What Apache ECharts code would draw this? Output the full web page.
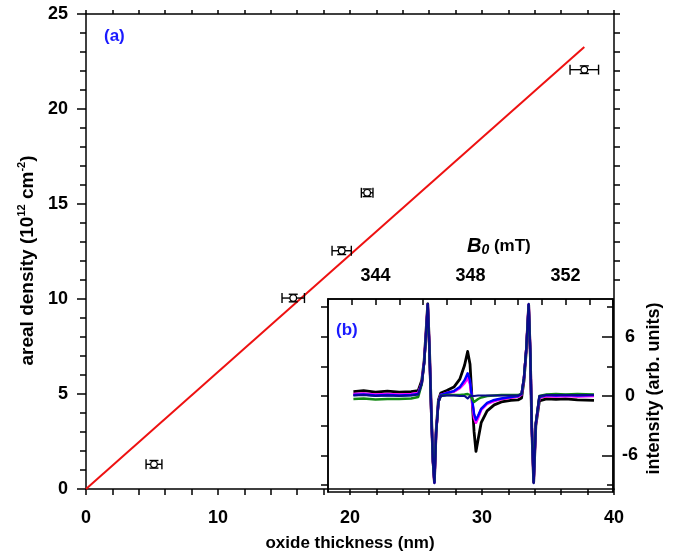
<!DOCTYPE html>
<html>
<head>
<meta charset="utf-8">
<script src="https://cdn.jsdelivr.net/npm/echarts@6/dist/echarts.min.js"></script>
<style>html,body{margin:0;padding:0;background:#fff}#c{width:674px;height:557px}</style>
</head>
<body>
<div id="c"></div>
<script>
// ---- main panel (a) data ----
const thickness    = [5.15, 15.7, 19.37, 21.3, 37.75];
const thicknessErr = [0.6, 0.85, 0.73, 0.44, 1.08];
const density      = [1.3, 10.05, 12.54, 15.59, 22.07];
const densityErr   = [0.2, 0.2, 0.2, 0.2, 0.2];
const fitX = [0, 37.75];
const fitY = [0, 23.26];

// ---- inset (b) EPR spectra ----
const fieldB = [343.07,343.5,344.0,344.5,345.0,345.5,345.8,345.95,346.05,346.13,346.2,346.27,346.35,346.42,346.48,346.55,346.65,346.75,347.0,347.3,347.55,347.75,347.88,347.98,348.05,348.15,348.23,348.32,348.45,348.7,349.0,349.3,349.7,350.0,350.15,350.25,350.35,350.45,350.52,350.58,350.66,350.75,350.9,351.2,351.6,352.0,352.5,353.2];
const specBlack   = [0.45,0.55,0.4,0.5,0.4,0.45,0.55,1.6,3.6,6.6,9.3,5.0,-1.6,-6.5,-8.7,-3.6,-0.4,0.3,0.55,0.9,1.7,3.1,4.5,3.2,0.3,-3.6,-5.6,-4.4,-2.7,-1.5,-0.9,-0.6,-0.45,-0.4,-0.2,1.5,4.6,9.2,4.0,-3.2,-8.7,-3.0,-0.5,-0.3,-0.35,-0.3,-0.4,-0.45];
const specRed     = [0.15,0.2,0.1,0.15,0.1,0.15,0.25,1.3,3.4,6.4,9.2,4.8,-1.8,-6.6,-8.7,-3.8,-0.6,0.1,0.3,0.45,0.85,1.5,2.1,1.4,-0.1,-1.9,-2.5,-2.1,-1.3,-0.75,-0.45,-0.3,-0.15,-0.05,0.15,1.8,4.8,9.2,4.2,-3.0,-8.6,-2.8,-0.15,0.0,0.0,0.05,0.0,0.05];
const specMagenta = [0.2,0.25,0.15,0.2,0.15,0.2,0.3,1.3,3.4,6.4,9.2,4.8,-1.8,-6.6,-8.7,-3.8,-0.6,0.1,0.3,0.45,0.8,1.3,1.8,1.2,-0.2,-2.2,-2.7,-2.2,-1.4,-0.8,-0.5,-0.3,-0.15,-0.05,0.15,1.8,4.8,9.2,4.2,-3.0,-8.6,-2.8,-0.15,0.0,-0.05,0.0,-0.05,0.0];
const specBlue    = [0.1,0.15,0.05,0.1,0.05,0.1,0.2,1.3,3.4,6.4,9.2,4.8,-1.8,-6.6,-8.7,-3.8,-0.6,0.1,0.3,0.5,0.9,1.6,2.3,1.6,0.0,-1.8,-2.4,-2.0,-1.3,-0.7,-0.4,-0.25,-0.1,0.0,0.2,1.8,4.8,9.2,4.2,-3.0,-8.6,-2.8,-0.1,0.1,0.05,0.1,0.05,0.1];
const specGreen   = [-0.3,-0.25,-0.35,-0.3,-0.3,-0.25,-0.1,1.2,3.3,6.3,9.1,4.7,-1.9,-6.6,-8.6,-3.8,-0.6,0.0,0.1,0.1,0.1,0.15,0.2,0.1,-0.2,-0.6,-0.5,-0.3,-0.15,0.0,0.05,0.1,0.1,0.1,0.25,1.8,4.8,9.1,4.2,-3.0,-8.6,-2.7,0.0,0.15,0.2,0.15,0.2,0.15];
const specNavy    = [0.05,0.1,0.0,0.05,0.0,0.05,0.15,1.3,3.4,6.4,9.3,4.8,-1.8,-6.6,-8.8,-3.8,-0.6,0.0,0.05,0.05,0.0,0.0,-0.25,0.0,0.05,0.0,0.0,0.05,0.05,0.05,0.05,0.05,0.05,0.05,0.2,1.8,4.8,9.3,4.2,-3.0,-8.8,-2.8,0.0,0.1,0.1,0.1,0.1,0.1];

// ---- tick values ----
const insetFieldLabels = [344, 348, 352];
const insetIntLabels   = [-6, 0, 6];
const insetIntMinor    = [-9, -3, 3, 9];
const insetIntAll      = [-9, -6, -3, 0, 3, 6, 9];
const mainRightTicks   = [11,12,13,14,15,16,17,18,19,20,21,22,23,24,25];

const F = "'Liberation Sans', Arial, Helvetica, sans-serif";
const blk = '#000';
const lab = {color: blk, fontFamily: F, fontWeight: 'bold', fontSize: 18};

function spec(arr) { return fieldB.map((b, i) => [b, arr[i]]); }
function specSeries(arr, color, w) {
  return {type: 'line', xAxisIndex: 2, yAxisIndex: 2, data: spec(arr), symbol: 'none',
          lineStyle: {color: color, width: w, join: 'round'}, itemStyle: {color: color}, animation: false};
}

const chart = echarts.init(document.getElementById('c'), null, {renderer: 'canvas'});
chart.setOption({
  animation: false,
  backgroundColor: '#fff',
  grid: [
    {left: 86, top: 14, width: 528, height: 478},
    {left: 328, top: 299, width: 285, height: 193, show: true, borderColor: blk, borderWidth: 1.5, backgroundColor: 'rgba(0,0,0,0)'}
  ],
  xAxis: [
    {gridIndex: 0, type: 'value', min: 0, max: 40, interval: 10, position: 'bottom',
     axisLine: {onZero: false, lineStyle: {color: blk, width: 1.5}},
     axisTick: {length: 6, lineStyle: {color: blk, width: 1.5}},
     minorTick: {show: true, splitNumber: 5, length: 6, lineStyle: {color: blk, width: 1.5}},
     splitLine: {show: false}, minorSplitLine: {show: false},
     axisLabel: Object.assign({margin: 20}, lab),
     name: 'oxide thickness (nm)', nameLocation: 'middle', nameGap: 46,
     nameTextStyle: {color: blk, fontFamily: F, fontWeight: 'bold', fontSize: 17}},
    {gridIndex: 0, type: 'value', min: 0, max: 40, interval: 10, position: 'top',
     axisLine: {onZero: false, lineStyle: {color: blk, width: 1.5}},
     axisTick: {length: 4, lineStyle: {color: blk, width: 1.5}},
     minorTick: {show: true, splitNumber: 5, length: 4, lineStyle: {color: blk, width: 1.5}},
     splitLine: {show: false}, axisLabel: {show: false}},
    {gridIndex: 1, type: 'value', min: 342, max: 354, interval: 1, position: 'top',
     axisLine: {onZero: false, lineStyle: {color: blk, width: 1.5}},
     axisTick: {inside: true, length: 6, lineStyle: {color: blk, width: 1.5}},
     splitLine: {show: false},
     axisLabel: Object.assign({margin: 14, customValues: insetFieldLabels}, lab)}
  ],
  yAxis: [
    {gridIndex: 0, type: 'value', min: 0, max: 25, interval: 5, position: 'left',
     axisLine: {onZero: false, lineStyle: {color: blk, width: 1.5}},
     axisTick: {length: 9, lineStyle: {color: blk, width: 1.5}},
     minorTick: {show: true, splitNumber: 5, length: 6, lineStyle: {color: blk, width: 1.5}},
     splitLine: {show: false}, minorSplitLine: {show: false},
     axisLabel: Object.assign({margin: 18}, lab),
     name: '{t|areal density (10}{s|12}{t| cm}{s|-2}{t|)}', nameLocation: 'middle', nameGap: 44,
     nameTextStyle: {padding: [0, 18, 0, 0], rich: {
       t: {color: blk, fontFamily: F, fontWeight: 'bold', fontSize: 19, lineHeight: 22},
       s: {color: blk, fontFamily: F, fontWeight: 'bold', fontSize: 11, verticalAlign: 'top', lineHeight: 22, padding: [0, 0, 8, 0]}
     }}},
    {gridIndex: 0, type: 'value', min: 0, max: 25, position: 'right',
     axisLine: {onZero: false, lineStyle: {color: blk, width: 1.5}},
     axisTick: {length: 6, customValues: mainRightTicks, lineStyle: {color: blk, width: 1.5}},
     splitLine: {show: false}, axisLabel: {show: false}},
    {gridIndex: 1, type: 'value', min: -9.7, max: 9.8, position: 'right',
     axisLine: {onZero: false, lineStyle: {color: blk, width: 1.5}},
     axisTick: {inside: true, length: 11, customValues: insetIntLabels, lineStyle: {color: blk, width: 1.5}},
     splitLine: {show: false},
     axisLabel: Object.assign({margin: 17, align: 'center', customValues: insetIntLabels}, lab),
     name: 'intensity (arb. units)', nameLocation: 'middle', nameGap: 32,
     nameTextStyle: {color: blk, fontFamily: F, fontWeight: 'bold', fontSize: 18, padding: [0, 0, 0, 14]}},
    {gridIndex: 1, type: 'value', min: -9.7, max: 9.8, position: 'right',
     axisLine: {show: false},
     axisTick: {inside: true, length: 6, customValues: insetIntMinor, lineStyle: {color: blk, width: 1.5}},
     splitLine: {show: false}, axisLabel: {show: false}},
    {gridIndex: 1, type: 'value', min: -9.7, max: 9.8, position: 'left',
     axisLine: {onZero: false, lineStyle: {color: blk, width: 1.5}},
     axisTick: {length: 7, customValues: insetIntAll, lineStyle: {color: blk, width: 1.5}},
     splitLine: {show: false}, axisLabel: {show: false}}
  ],
  graphic: [
    {type: 'text', left: 104, top: 28, style: {text: '(a)', fill: '#1a1aff', fontFamily: F, fontWeight: 'bold', fontSize: 17}},
    {type: 'text', left: 336, top: 322, style: {text: '(b)', fill: '#1a1aff', fontFamily: F, fontWeight: 'bold', fontSize: 17}},
    {type: 'text', left: 467, top: 236, style: {text: '{b|B}{s|0}{m| (mT)}', rich: {
       b: {fill: blk, fontFamily: F, fontWeight: 'bold', fontStyle: 'italic', fontSize: 20, lineHeight: 22},
       s: {fill: blk, fontFamily: F, fontWeight: 'bold', fontStyle: 'italic', fontSize: 14, verticalAlign: 'bottom', lineHeight: 22, padding: [6, 0, 0, 0]},
       m: {fill: blk, fontFamily: F, fontWeight: 'bold', fontSize: 17, lineHeight: 22}
    }}}
  ],
  series: [
    {type: 'line', xAxisIndex: 0, yAxisIndex: 0, data: fitX.map((x, i) => [x, fitY[i]]),
     symbol: 'none', lineStyle: {color: '#ee1111', width: 2}, z: 3},
    {type: 'custom', xAxisIndex: 0, yAxisIndex: 0, z: 4,
     data: thickness.map((x, i) => [x, thicknessErr[i], density[i], densityErr[i]]),
     encode: {x: 0, y: 2},
     renderItem: function (params, api) {
       const x = api.value(0), ex = api.value(1), y = api.value(2), ey = api.value(3);
       const c = api.coord([x, y]), l = api.coord([x - ex, y]), r = api.coord([x + ex, y]);
       const t = api.coord([x, y + ey]), b = api.coord([x, y - ey]);
       const st = {stroke: blk, lineWidth: 1.4, fill: null};
       const capH = 5, capW = 4.5;
       return {type: 'group', children: [
         {type: 'line', shape: {x1: l[0], y1: c[1], x2: r[0], y2: c[1]}, style: st},
         {type: 'line', shape: {x1: l[0], y1: c[1] - capH, x2: l[0], y2: c[1] + capH}, style: st},
         {type: 'line', shape: {x1: r[0], y1: c[1] - capH, x2: r[0], y2: c[1] + capH}, style: st},
         {type: 'line', shape: {x1: c[0], y1: t[1], x2: c[0], y2: b[1]}, style: st},
         {type: 'line', shape: {x1: c[0] - capW, y1: t[1], x2: c[0] + capW, y2: t[1]}, style: st},
         {type: 'line', shape: {x1: c[0] - capW, y1: b[1], x2: c[0] + capW, y2: b[1]}, style: st},
         {type: 'circle', shape: {cx: c[0], cy: c[1], r: 3.3}, style: {fill: '#fff', stroke: blk, lineWidth: 1.2}}
       ]};
     }},
    specSeries(specBlack, '#000000', 2.8),
    specSeries(specRed, '#ff1a1a', 2.4),
    specSeries(specMagenta, '#ff00ff', 2.6),
    specSeries(specBlue, '#0000ff', 2.4),
    specSeries(specGreen, '#118811', 2.4),
    specSeries(specNavy, '#0a0a8c', 2.2)
  ]
});
</script>
</body>
</html>
